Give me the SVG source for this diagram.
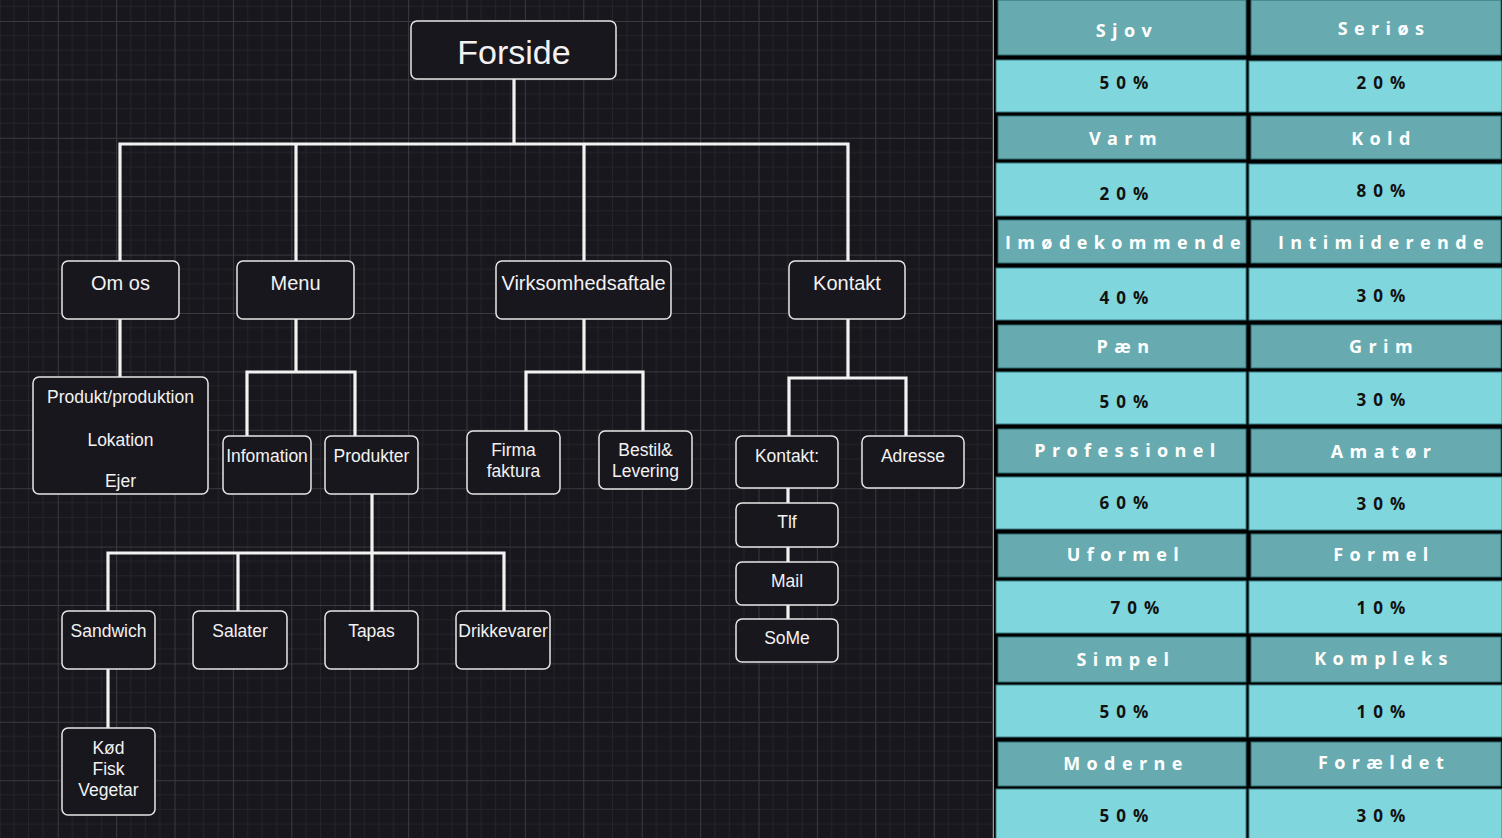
<svg xmlns="http://www.w3.org/2000/svg" width="1502" height="838" viewBox="0 0 1502 838">
<style>
.node rect{fill:#19171e;stroke:#e6e6e6;stroke-width:1.5}
.node text{font-family:"Liberation Sans",Arial,sans-serif;fill:#f2f2f2;text-anchor:middle;font-size:17.5px}
.big text{font-size:20px}
#connectors path{fill:none;stroke:#f2f2f2;stroke-width:3.2;stroke-linecap:square}
.hd{fill:#67abb1;stroke:#2f6a6e;stroke-width:1}
.vl{fill:#7fd6dc;stroke:#3a7f84;stroke-width:1}
.ht{font-family:"Open Sans",sans-serif;font-weight:700;font-size:18px;letter-spacing:6.4px;fill:#ffffff;text-anchor:middle}
.vt{font-family:"Open Sans",sans-serif;font-weight:700;font-size:17px;letter-spacing:7px;fill:#111111;text-anchor:middle}
</style>
<defs>
<pattern id="grid" width="58.4" height="58.4" patternUnits="userSpaceOnUse" x="-0.7" y="21">
<rect width="58.4" height="58.4" fill="#18171d"/>
<path d="M14.6 0V58.4M29.2 0V58.4M43.8 0V58.4M0 14.6H58.4M0 29.2H58.4M0 43.8H58.4" stroke="#25242a" stroke-width="1"/>
<path d="M0.5 0V58.4M0 0.5H58.4" stroke="#3a393f" stroke-width="1"/>
</pattern>
</defs>
<rect x="0" y="0" width="995" height="838" fill="url(#grid)"/>

<g id="connectors">
<path d="M514 79V144M120 144H848M120 144V261M296 144V261M584 144V261M848 144V261"/>
<path d="M120 319V377"/>
<path d="M296 319V372M247 372H355M247 372V436M355 372V436"/>
<path d="M584 319V372M526 372H643M526 372V431M643 372V431"/>
<path d="M848 319V378M789 378H906M789 378V436M906 378V436"/>
<path d="M372 494V553M108 553H504M108 553V611M238 553V611M372 553V611M504 553V611"/>
<path d="M108 669V728"/>
<path d="M788 488V503M788 547V562M788 605V619"/>
</g>

<g id="forside" class="node"><rect x="411" y="21" width="205" height="58" rx="6"/><text x="514" y="64" style="font-size:34px">Forside</text></g>
<g id="om-os" class="node big"><rect x="62" y="261" width="117" height="58" rx="6"/><text x="120.5" y="290">Om os</text></g>
<g id="menu" class="node big"><rect x="237" y="261" width="117" height="58" rx="6"/><text x="295.5" y="290">Menu</text></g>
<g id="virksomhedsaftale" class="node big"><rect x="496" y="261" width="175" height="58" rx="6"/><text x="583.5" y="290">Virksomhedsaftale</text></g>
<g id="kontakt" class="node big"><rect x="789" y="261" width="116" height="58" rx="6"/><text x="847" y="290">Kontakt</text></g>

<g id="produkt-produktion" class="node"><rect x="33" y="377" width="175" height="117" rx="6"/><text x="120.5" y="403">Produkt/produktion</text><text x="120.5" y="446">Lokation</text><text x="120.5" y="487">Ejer</text></g>
<g id="infomation" class="node"><rect x="223" y="436" width="88" height="58" rx="6"/><text x="267" y="462">Infomation</text></g>
<g id="produkter" class="node"><rect x="325" y="436" width="93" height="58" rx="6"/><text x="371.5" y="462">Produkter</text></g>
<g id="firma-faktura" class="node"><rect x="467" y="431" width="93" height="63" rx="6"/><text x="513.5" y="456">Firma</text><text x="513.5" y="477">faktura</text></g>
<g id="bestil-levering" class="node"><rect x="599" y="431" width="93" height="58" rx="6"/><text x="645.5" y="456">Bestil&amp;</text><text x="645.5" y="477">Levering</text></g>
<g id="kontakt-info" class="node"><rect x="736" y="436" width="102" height="52" rx="6"/><text x="787" y="462">Kontakt:</text></g>
<g id="adresse" class="node"><rect x="862" y="436" width="102" height="52" rx="6"/><text x="913" y="462">Adresse</text></g>
<g id="tlf" class="node"><rect x="736" y="503" width="102" height="44" rx="6"/><text x="787" y="528">Tlf</text></g>
<g id="mail" class="node"><rect x="736" y="562" width="102" height="43" rx="6"/><text x="787" y="587">Mail</text></g>
<g id="some" class="node"><rect x="736" y="619" width="102" height="43" rx="6"/><text x="787" y="644">SoMe</text></g>

<g id="sandwich" class="node"><rect x="62" y="611" width="93" height="58" rx="6"/><text x="108.5" y="637">Sandwich</text></g>
<g id="salater" class="node"><rect x="193" y="611" width="94" height="58" rx="6"/><text x="240" y="637">Salater</text></g>
<g id="tapas" class="node"><rect x="325" y="611" width="93" height="58" rx="6"/><text x="371.5" y="637">Tapas</text></g>
<g id="drikkevarer" class="node"><rect x="456" y="611" width="94" height="58" rx="6"/><text x="503" y="637">Drikkevarer</text></g>
<g id="koed-fisk-vegetar" class="node"><rect x="62" y="728" width="93" height="87" rx="6"/><text x="108.5" y="754">Kød</text><text x="108.5" y="775">Fisk</text><text x="108.5" y="796">Vegetar</text></g>

<g id="table">
<rect x="993" y="0" width="509" height="838" fill="#000000"/>
<rect x="993" y="0" width="1" height="838" fill="#9a9a9e"/>
<g id="headers-left">
<rect class="hd" x="998" y="0" width="248" height="55"/>
<rect class="hd" x="998" y="116" width="248" height="43"/>
<rect class="hd" x="998" y="220" width="248" height="43"/>
<rect class="hd" x="998" y="325" width="248" height="43"/>
<rect class="hd" x="998" y="429" width="248" height="44"/>
<rect class="hd" x="998" y="534" width="248" height="43"/>
<rect class="hd" x="998" y="637" width="248" height="45"/>
<rect class="hd" x="998" y="742" width="248" height="44"/>
</g>
<g id="headers-right">
<rect class="hd" x="1251" y="0" width="250" height="55"/>
<rect class="hd" x="1251" y="116" width="250" height="43"/>
<rect class="hd" x="1251" y="220" width="250" height="43"/>
<rect class="hd" x="1251" y="325" width="250" height="43"/>
<rect class="hd" x="1251" y="429" width="250" height="44"/>
<rect class="hd" x="1251" y="534" width="250" height="43"/>
<rect class="hd" x="1251" y="637" width="250" height="45"/>
<rect class="hd" x="1251" y="742" width="250" height="44"/>
</g>
<g id="values-left">
<rect class="vl" x="996" y="60" width="250" height="52"/>
<rect class="vl" x="996" y="163" width="250" height="53"/>
<rect class="vl" x="996" y="268" width="250" height="52"/>
<rect class="vl" x="996" y="372" width="250" height="52"/>
<rect class="vl" x="996" y="477" width="250" height="52"/>
<rect class="vl" x="996" y="581" width="250" height="52"/>
<rect class="vl" x="996" y="685" width="250" height="52"/>
<rect class="vl" x="996" y="789" width="250" height="52"/>
</g>
<g id="values-right">
<rect class="vl" x="1249" y="61" width="253" height="51"/>
<rect class="vl" x="1249" y="164" width="253" height="52"/>
<rect class="vl" x="1249" y="268" width="253" height="52"/>
<rect class="vl" x="1249" y="372" width="253" height="52"/>
<rect class="vl" x="1249" y="477" width="253" height="53"/>
<rect class="vl" x="1249" y="581" width="253" height="52"/>
<rect class="vl" x="1249" y="685" width="253" height="52"/>
<rect class="vl" x="1249" y="789" width="253" height="52"/>
</g>
<g id="header-texts">
<text class="ht" x="1127" y="37">Sjov</text>
<text class="ht" x="1384" y="35">Seriøs</text>
<text class="ht" x="1126" y="145">Varm</text>
<text class="ht" x="1384" y="145">Kold</text>
<text class="ht" x="1126" y="249">Imødekommende</text>
<text class="ht" x="1384" y="249">Intimiderende</text>
<text class="ht" x="1126" y="353">Pæn</text>
<text class="ht" x="1384" y="353">Grim</text>
<text class="ht" x="1128" y="457">Professionel</text>
<text class="ht" x="1384" y="458">Amatør</text>
<text class="ht" x="1126" y="561">Uformel</text>
<text class="ht" x="1384" y="561">Formel</text>
<text class="ht" x="1126" y="666">Simpel</text>
<text class="ht" x="1384" y="665">Kompleks</text>
<text class="ht" x="1126" y="770">Moderne</text>
<text class="ht" x="1384" y="769">Forældet</text>
</g>
<g id="value-texts">
<text class="vt" x="1127.5" y="89">50%</text>
<text class="vt" x="1384.5" y="89">20%</text>
<text class="vt" x="1127.5" y="200">20%</text>
<text class="vt" x="1384.5" y="197">80%</text>
<text class="vt" x="1127.5" y="304">40%</text>
<text class="vt" x="1384.5" y="302">30%</text>
<text class="vt" x="1127.5" y="408">50%</text>
<text class="vt" x="1384.5" y="406">30%</text>
<text class="vt" x="1127.5" y="509">60%</text>
<text class="vt" x="1384.5" y="510">30%</text>
<text class="vt" x="1138.5" y="614">70%</text>
<text class="vt" x="1384.5" y="614">10%</text>
<text class="vt" x="1127.5" y="718">50%</text>
<text class="vt" x="1384.5" y="718">10%</text>
<text class="vt" x="1127.5" y="822">50%</text>
<text class="vt" x="1384.5" y="822">30%</text>
</g>
</g>
</svg>
